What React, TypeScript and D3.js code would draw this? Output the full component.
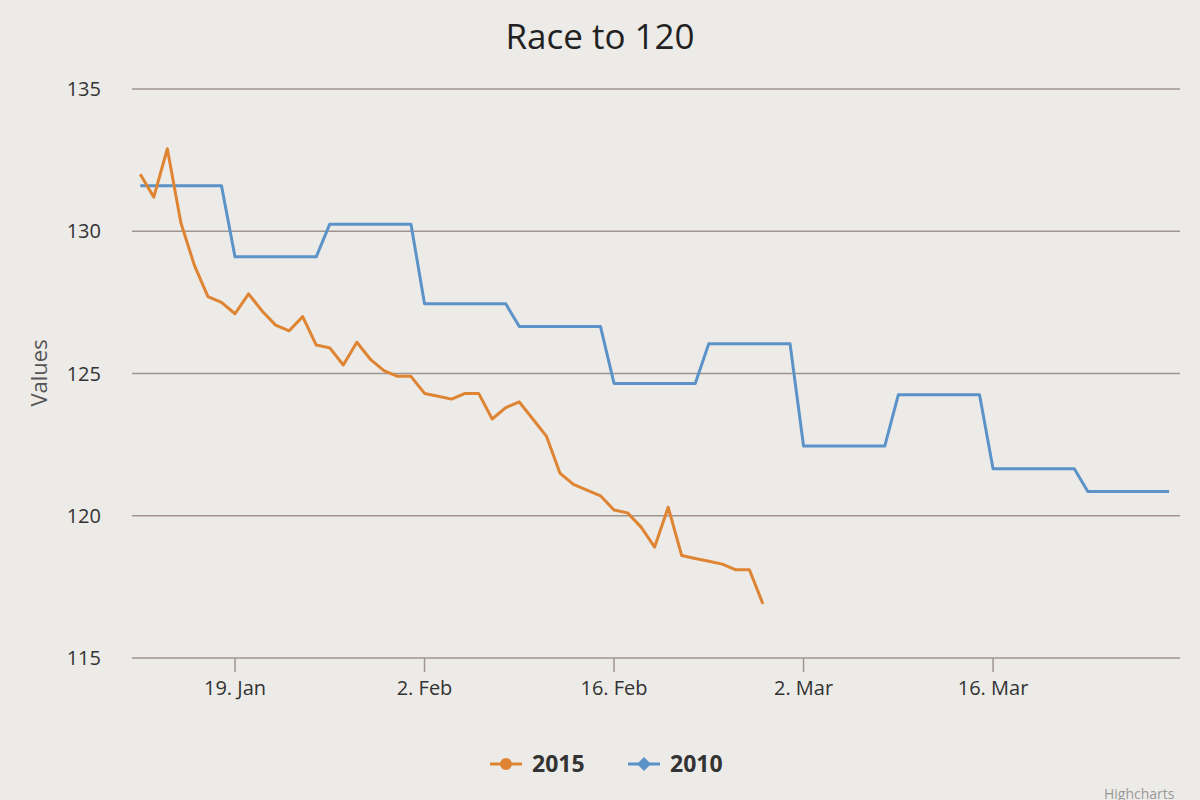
import React from "react";
import * as d3 from "d3";

const yTicks = [115, 120, 125, 130, 135];
const xTickDates = ["2015-01-19", "2015-02-02", "2015-02-16", "2015-03-02", "2015-03-16"];
const start2015 = "2015-01-12";
const values2015 = [132.0, 131.2, 132.9, 130.3, 128.8, 127.7, 127.5, 127.1, 127.8, 127.2, 126.7, 126.5, 127.0, 126.0, 125.9, 125.3, 126.1, 125.5, 125.1, 124.9, 124.9, 124.3, 124.2, 124.1, 124.3, 124.3, 123.4, 123.8, 124.0, 123.4, 122.8, 121.5, 121.1, 120.9, 120.7, 120.2, 120.1, 119.6, 118.9, 120.3, 118.6, 118.5, 118.4, 118.3, 118.1, 118.1, 116.9];
const weekly2010 = [131.6, 129.1, 130.25, 127.45, 126.65, 124.65, 126.05, 122.45, 124.25, 121.65, 120.85];

const W = 1200, H = 800;
const left = 132, right = 1180, top = 89, bottom = 658;
const parse = d3.utcParse("%Y-%m-%d");
const x2 = d3.scaleLinear().domain([-0.61, 76.81]).range([left, right]);
const y = d3.scaleLinear().domain([115, 135]).range([bottom, top]);
const dayMs = 86400e3;
const t0 = parse(start2015)!.getTime();
const dayIdx = (s: string) => (parse(s)!.getTime() - t0) / dayMs;

const pts2015 = values2015.map((v, i) => [x2(i), y(v)] as [number, number]);
const daily2010: number[] = [];
weekly2010.forEach((v) => { for (let k = 0; k < 7; k++) daily2010.push(v); });
const pts2010 = daily2010.map((v, i) => [x2(i), y(v)] as [number, number]);
const line = d3.line();
const fmt = d3.utcFormat("%-d. %b");

const ORANGE = "#de8433";
const BLUE = "#5b93c9";
const font = "'Open Sans', 'DejaVu Sans', sans-serif";

export default function App() {
  return (
    <svg width={W} height={H} style={{ position: "absolute", left: 0, top: 0, background: "#ecebe8" }} fontFamily={font}>
      <rect width={W} height={H} fill="#ecebe8" />
      <text x={600} y={49} textAnchor="middle" fontSize={35} fill="#222">Race to 120</text>
      {yTicks.map((t) => (
        <g key={t}>
          <line x1={left} x2={right} y1={y(t)} y2={y(t)} stroke="#a09490" strokeWidth={1.5} />
          <text x={101} y={y(t) + 7} textAnchor="end" fontSize={20} fill="#333">{t}</text>
        </g>
      ))}
      {xTickDates.map((d) => {
        const px = x2(dayIdx(d));
        return (
          <g key={d}>
            <line x1={px} x2={px} y1={bottom} y2={bottom + 14} stroke="#a09490" strokeWidth={1.5} />
            <text x={px} y={695} textAnchor="middle" fontSize={20} fill="#333">{fmt(parse(d)!)}</text>
          </g>
        );
      })}
      <text transform={`translate(47,373) rotate(-90)`} textAnchor="middle" fontSize={22} fill="#555">Values</text>
      <path d={line(pts2010)!} fill="none" stroke={BLUE} strokeWidth={3} strokeLinejoin="round" />
      <path d={line(pts2015)!} fill="none" stroke={ORANGE} strokeWidth={3} strokeLinejoin="round" />
      <g>
        <line x1={490} x2={522} y1={764} y2={764} stroke={ORANGE} strokeWidth={3} />
        <circle cx={506} cy={764} r={6} fill={ORANGE} />
        <text x={532} y={772} fontSize={23} fontWeight="bold" fill="#333">2015</text>
        <line x1={628} x2={660} y1={764} y2={764} stroke={BLUE} strokeWidth={3} />
        <path d="M644,757 L651,764 L644,771 L637,764 Z" fill={BLUE} />
        <text x={670} y={772} fontSize={23} fontWeight="bold" fill="#333">2010</text>
      </g>
      <text x={1104} y={799} fontSize={14} fill="#999">Highcharts</text>
    </svg>
  );
}
